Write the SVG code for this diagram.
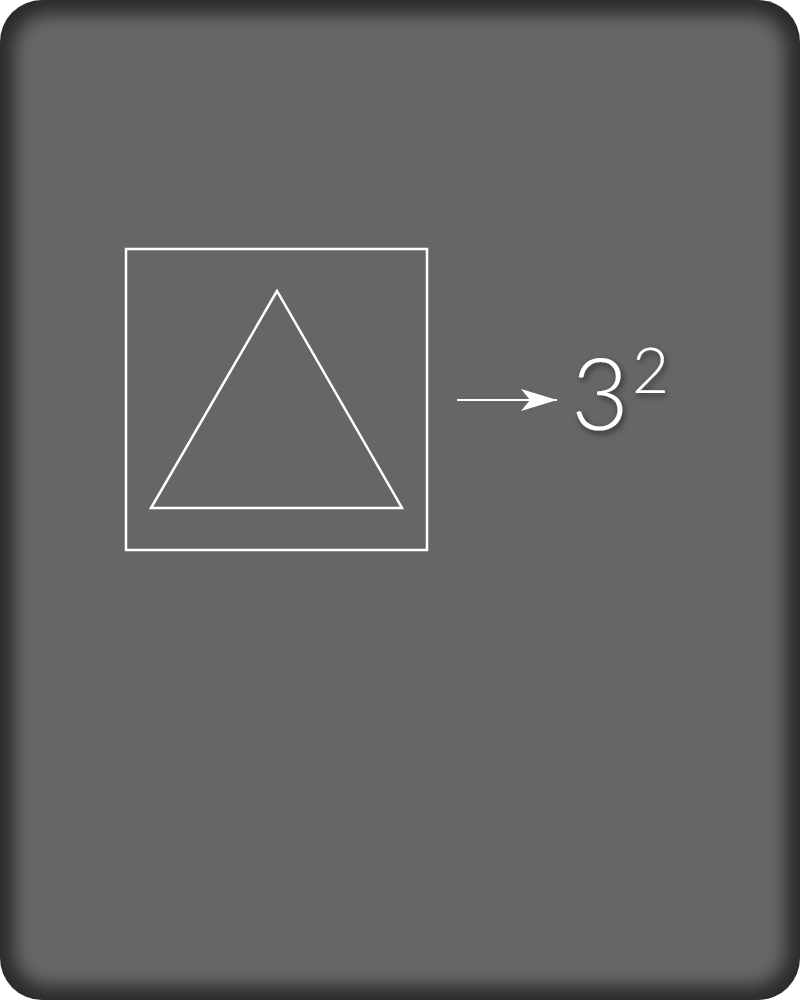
<svg xmlns="http://www.w3.org/2000/svg" width="800" height="1000" viewBox="0 0 800 1000">
<defs>
<filter id="soft" x="-10%" y="-10%" width="120%" height="120%"><feGaussianBlur stdDeviation="9"/></filter>
<filter id="ts" x="-30%" y="-30%" width="160%" height="160%"><feDropShadow dx="2" dy="3" stdDeviation="3" flood-color="#000" flood-opacity="0.55"/></filter>
<clipPath id="card"><rect x="0" y="0" width="800" height="1000" rx="42"/></clipPath>
<marker id="ah" viewBox="0 0 36 22" refX="36" refY="11" markerWidth="36" markerHeight="22" markerUnits="userSpaceOnUse" orient="auto"><path d="M0,0 L36,11 L0,22 L9,11 Z" fill="#fff"/></marker>
<style>.w{fill:none;stroke:#fff;stroke-width:2.5}.t{font-family:Lato,"Open Sans",sans-serif;font-weight:300;fill:#fff}</style>
</defs>
<g id="background" clip-path="url(#card)">
<rect x="0" y="0" width="800" height="1000" fill="#2a2a2a"/>
<rect x="14" y="14" width="772" height="972" rx="34" fill="#666" filter="url(#soft)"/>
</g>
<g id="square"><rect class="w" x="126" y="249" width="301" height="301"/></g>
<g id="triangle"><polygon class="w" points="277,291 151,508 402,508"/></g>
<g id="connectors"><line x1="457" y1="400" x2="557" y2="400" stroke="#fff" stroke-width="2" marker-end="url(#ah)"/></g>
<g id="label" filter="url(#ts)"><text class="t" x="571" y="430" font-size="100">3</text><text class="t" x="632" y="393" font-size="64">2</text></g>
</svg>
